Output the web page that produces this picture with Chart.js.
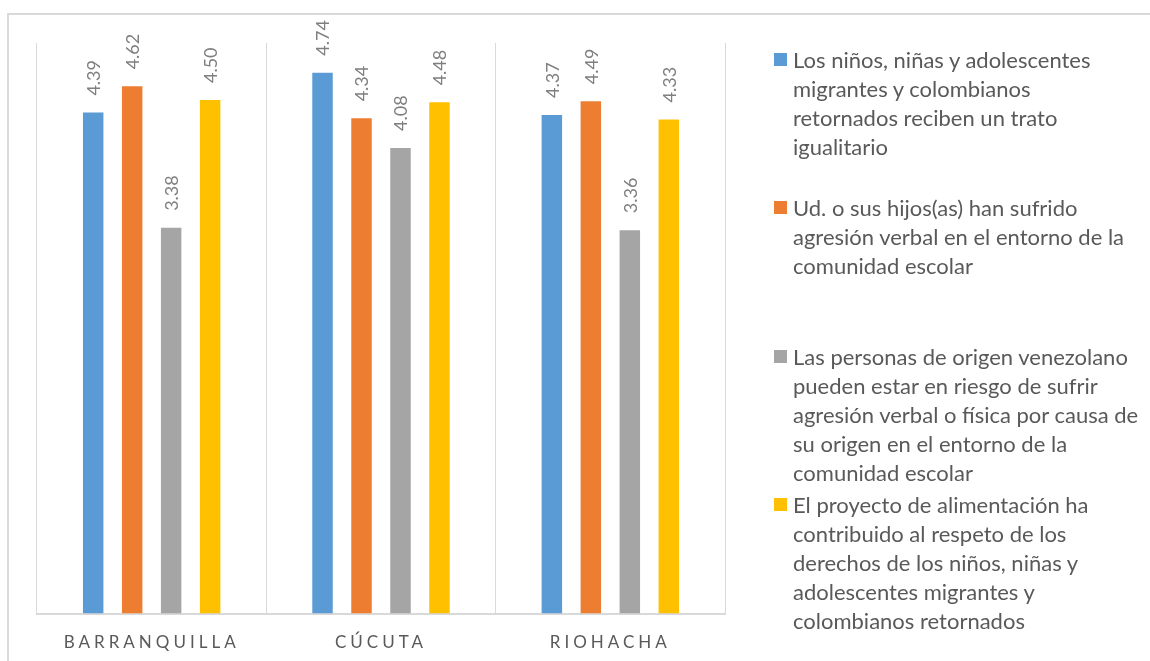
<!DOCTYPE html>
<html>
<head>
<meta charset="utf-8">
<script src="https://cdn.jsdelivr.net/npm/chart.js@4"></script>
<style>
  body { margin: 0; background: #fff; }
  #wrap { position: relative; width: 1150px; height: 661px; overflow: hidden; }
  #frame {
    position: absolute; left: 7px; top: 13px; width: 1200px; height: 700px;
    border-top: 2px solid #d9d9d9; border-left: 2px solid #d9d9d9;
  }
  #myChart { position: absolute; left: 0; top: 0; }
  #legend { position: absolute; left: 774px; top: 0; font-family: "Lato"; font-size: 22px; color: #595959; }
  .legend-item { position: absolute; left: 0; white-space: nowrap; line-height: 29px; }
  .legend-box { position: absolute; left: 0; top: 8px; width: 13px; height: 13px; }
  .legend-text { position: absolute; left: 19px; top: 0; }
</style>
</head>
<body>
<div id="wrap">
  <div id="frame"></div>
  <canvas id="myChart" width="1150" height="682"></canvas>
  <div id="legend"></div>
</div>
<script>
const categories = ["BARRANQUILLA", "CÚCUTA", "RIOHACHA"];

const tratoIgualitario = [4.39, 4.74, 4.37];
const agresionHijos = [4.62, 4.34, 4.49];
const riesgoVenezolanos = [3.38, 4.08, 3.36];
const proyectoAlimentacion = [4.5, 4.48, 4.33];

const seriesLabels = [
  ["Los niños, niñas y adolescentes", "migrantes y colombianos", "retornados reciben un trato", "igualitario"],
  ["Ud. o sus hijos(as) han sufrido", "agresión verbal en el entorno de la", "comunidad escolar"],
  ["Las personas de origen venezolano", "pueden estar en riesgo de sufrir", "agresión verbal o física por causa de", "su origen en el entorno de la", "comunidad escolar"],
  ["El proyecto de alimentación ha", "contribuido al respeto de los", "derechos de los niños, niñas y", "adolescentes migrantes y", "colombianos retornados"],
];

const seriesColors = ["#5B9BD5", "#ED7D31", "#A5A5A5", "#FFC000"];

// letter spacing for the category labels only
const spacingPlugin = {
  id: "spacing",
  beforeDraw(chart) {
    chart.ctx.letterSpacing = "4px";
  },
  beforeDatasetsDraw(chart) {
    chart.ctx.letterSpacing = "0px";
  },
};

// rotated value labels above each bar
const valueLabels = {
  id: "valueLabels",
  afterDatasetsDraw(chart) {
    const ctx = chart.ctx;
    chart.data.datasets.forEach((ds, d) => {
      const meta = chart.getDatasetMeta(d);
      meta.data.forEach((bar, i) => {
        ctx.save();
        ctx.translate(bar.x + 1, bar.y - 17);
        ctx.rotate(-Math.PI / 2);
        ctx.font = "18px Lato";
        ctx.fillStyle = "#7f7f7f";
        ctx.textAlign = "left";
        ctx.textBaseline = "middle";
        ctx.fillText(ds.data[i].toFixed(2), 0, 0);
        ctx.restore();
      });
    });
  },
};

const ctx = document.getElementById("myChart");
const chart = new Chart(ctx, {
  type: "bar",
  data: {
    labels: categories,
    datasets: [
      { label: seriesLabels[0], data: tratoIgualitario, backgroundColor: seriesColors[0] },
      { label: seriesLabels[1], data: agresionHijos, backgroundColor: seriesColors[1] },
      { label: seriesLabels[2], data: riesgoVenezolanos, backgroundColor: seriesColors[2] },
      { label: seriesLabels[3], data: proyectoAlimentacion, backgroundColor: seriesColors[3] },
    ],
  },
  options: {
    responsive: false,
    animation: false,
    devicePixelRatio: 1,
    layout: {
      padding: { left: 37, right: 425, top: 43, bottom: 10 },
    },
    datasets: {
      bar: { categoryPercentage: 0.68, barPercentage: 0.525 },
    },
    plugins: {
      legend: { display: false },
      tooltip: { enabled: false },
    },
    scales: {
      x: {
        grid: { color: "#d9d9d9", lineWidth: 1, drawTicks: false, offset: true },
        border: { color: "#d9d9d9", width: 2 },
        ticks: {
          color: "#595959",
          padding: 19,
          font: { family: "Lato", size: 17 },
        },
      },
      y: {
        display: false,
        min: 0,
        max: 5,
      },
    },
  },
  plugins: [spacingPlugin, valueLabels],
});

// legend built from the chart's datasets
const legendTops = [45, 193, 342, 490];
const legend = document.getElementById("legend");
chart.data.datasets.forEach((ds, i) => {
  const item = document.createElement("div");
  item.className = "legend-item";
  item.style.top = legendTops[i] + "px";
  item.innerHTML =
    `<span class="legend-box" style="background:${ds.backgroundColor}"></span>` +
    `<span class="legend-text">${ds.label.join("<br>")}</span>`;
  legend.appendChild(item);
});
</script>
</body>
</html>
